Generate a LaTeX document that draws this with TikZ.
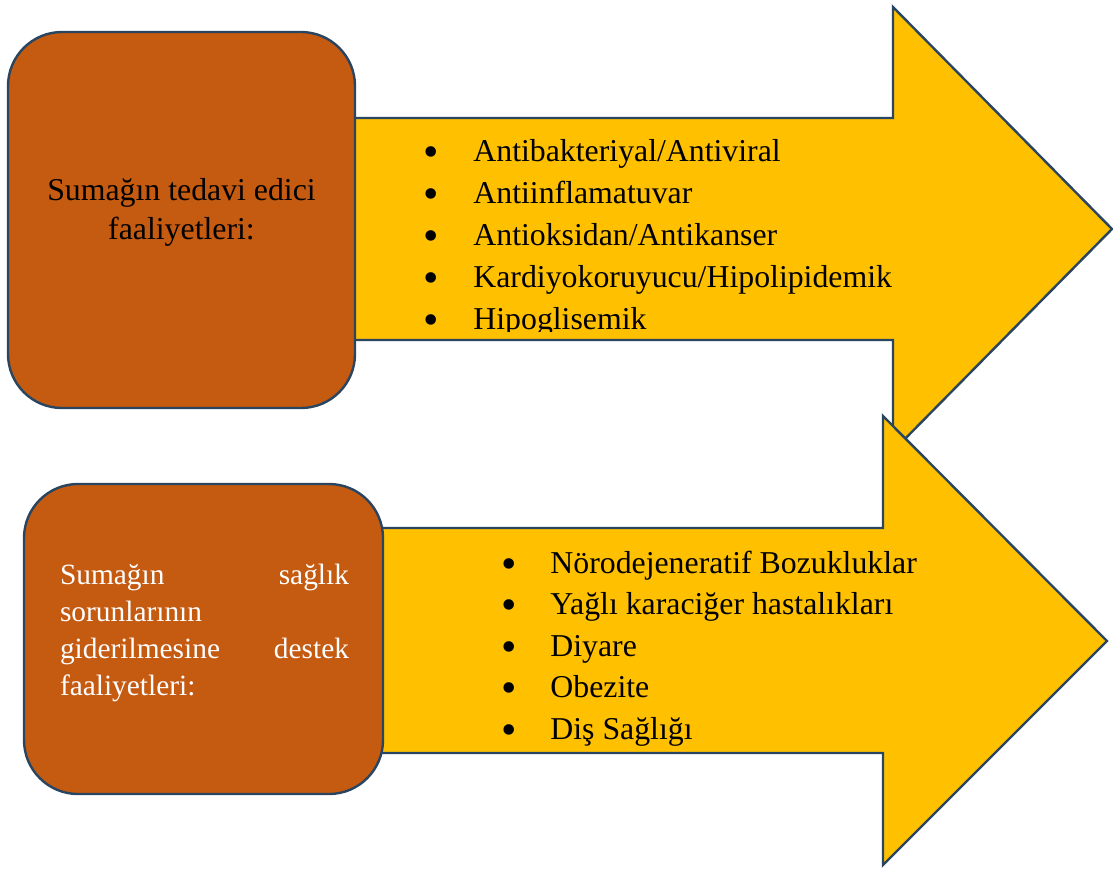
\documentclass[tikz,border=0pt]{standalone}
\usepackage{fontspec}
\setmainfont{Liberation Serif}
\usepackage{tikz}
\usetikzlibrary{positioning}
\definecolor{sumacbrown}{HTML}{C55A11}
\definecolor{sumacgold}{HTML}{FFC000}
\definecolor{sumacedge}{HTML}{2A4560}

\begin{document}
\begin{tikzpicture}[x=0.5pt,y=-0.5pt,
  every node/.style={font=\fontsize{15.9}{19.5}\selectfont, inner sep=0pt},
  bulletmark/.style={font=\fontsize{22}{22}\selectfont, anchor=base},
  bigarrow/.style={draw=sumacedge, line width=1.2pt, fill=sumacgold, line join=miter},
  infobox/.style={draw=sumacedge, line width=1.2pt, fill=sumacbrown, rounded corners=27pt}]
\useasboundingbox (0,0) rectangle (1113,869);
% the two arrows, lower one on top
\draw[bigarrow] (350,118) -- (893,118) -- (893,7) -- (1112,229) -- (893,451) -- (893,340) -- (350,340) -- cycle;
\draw[bigarrow] (378,528) -- (883,528) -- (883,416) -- (1107,641) -- (883,865) -- (883,753) -- (378,753) -- cycle;
% boxes
\node[infobox, minimum width=173.5pt, minimum height=188pt] (boxtop) at (181.5,220) {};
\node[align=center] (boxtoptext) at ([yshift=4pt]boxtop.center) {Sumağın tedavi edici\\faaliyetleri:};
\node[infobox, minimum width=179.5pt, minimum height=155pt] (boxbot) at (203.5,639) {};
\node[text=white, text width=144.5pt, align=left, font=\fontsize{14.7}{18.6}\selectfont] (boxbottext) at (204.5,633)
  {Sumağın\hfill sağlık\\sorunlarının\\giderilmesine\hfill destek\\faaliyetleri:};
% upper list (last line cut by the shaft)
\begin{scope}
\clip (400,100) rectangle (900,331);
\foreach \i/\txt in {%
  1/{Antibakteriyal/Antiviral},%
  2/{Antiinflamatuvar},%
  3/{Antioksidan/Antikanser},%
  4/{Kardiyokoruyucu/Hipolipidemik},%
  5/{Hipoglisemik}%
} {
  \pgfmathsetmacro{\ypos}{161+(\i-1)*42}
  \node[bulletmark] (topbullet\i) at (431,\ypos+5) {•};
  \node[anchor=base west] (topitem\i) at (473,\ypos) {\txt};
}
\end{scope}
% lower list
\foreach \i/\txt in {%
  1/{Nörodejeneratif Bozukluklar},%
  2/{Yağlı karaciğer hastalıkları},%
  3/{Diyare},%
  4/{Obezite},%
  5/{Diş Sağlığı}%
} {
  \pgfmathsetmacro{\ypos}{573+(\i-1)*41.5}
  \node[bulletmark] (botbullet\i) at (509,\ypos+5) {•};
  \node[anchor=base west] (botitem\i) at (550,\ypos) {\txt};
}
\end{tikzpicture}
\end{document}
